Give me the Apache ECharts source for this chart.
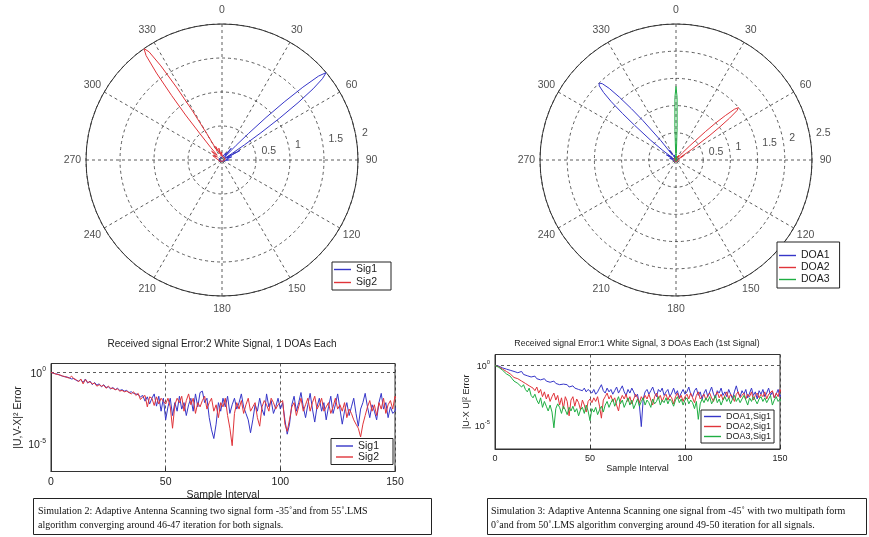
<!DOCTYPE html>
<html>
<head>
<meta charset="utf-8">
<script src="https://cdn.jsdelivr.net/npm/echarts@6.0.0/dist/echarts.min.js"></script>
<style>
html,body{margin:0;padding:0;background:#fff;}
#chart{width:869px;height:537px;}
</style>
</head>
<body>
<div id="chart"></div>
<script>
// ---- Beam patterns (radius vs. bearing in degrees) ----
const sig1Theta = [0, 10, 20, 28, 34, 38, 41, 43, 44, 45, 46, 47, 48, 49, 50, 51, 52, 53, 54, 55, 56, 57, 59, 62, 66, 72, 80, 90, 100, 110, 120, 135, 150, 170, 190, 210, 230, 250, 270, 285, 300, 315, 330, 345, 360];
const sig1R     = [0.04, 0.06, 0.05, 0.12, 0.08, 0.22, 0.05, 0.12, 0.3, 0.55, 0.9, 1.25, 1.6, 1.88, 2.0, 1.9, 1.7, 1.4, 1.05, 0.7, 0.4, 0.18, 0.05, 0.3, 0.08, 0.15, 0.06, 0.1, 0.05, 0.04, 0.03, 0.04, 0.02, 0.03, 0.02, 0.03, 0.02, 0.04, 0.03, 0.05, 0.04, 0.05, 0.03, 0.04, 0.04];
const sig2Theta = [0, 10, 20, 35, 50, 70, 90, 110, 130, 150, 170, 190, 210, 230, 250, 270, 285, 295, 303, 310, 315, 318, 320, 321, 322, 323, 324, 325, 326, 327, 328, 329, 330, 332, 335, 340, 345, 350, 355, 360];
const sig2R     = [0.08, 0.05, 0.06, 0.04, 0.05, 0.03, 0.04, 0.03, 0.02, 0.03, 0.02, 0.03, 0.02, 0.03, 0.04, 0.06, 0.05, 0.15, 0.08, 0.2, 0.1, 0.25, 0.5, 0.85, 1.2, 1.6, 1.9, 2.0, 1.92, 1.65, 1.25, 0.85, 0.45, 0.15, 0.22, 0.1, 0.18, 0.06, 0.12, 0.08];

const doa1Theta = [0, 15, 30, 45, 60, 80, 100, 120, 140, 160, 180, 200, 220, 240, 260, 275, 285, 292, 298, 303, 306, 308, 310, 311, 312, 313, 314, 315, 316, 317, 318, 319, 320, 322, 324, 327, 332, 340, 350, 360];
const doa1R     = [0.05, 0.03, 0.04, 0.03, 0.04, 0.02, 0.03, 0.02, 0.03, 0.02, 0.03, 0.02, 0.03, 0.02, 0.04, 0.06, 0.12, 0.05, 0.2, 0.08, 0.3, 0.6, 1.0, 1.3, 1.6, 1.82, 1.96, 2.0, 1.95, 1.8, 1.55, 1.25, 0.95, 0.45, 0.12, 0.22, 0.06, 0.1, 0.04, 0.05];
const doa2Theta = [0, 15, 25, 33, 38, 42, 44, 46, 47, 48, 49, 50, 51, 52, 53, 54, 56, 58, 62, 67, 75, 90, 110, 130, 150, 170, 190, 210, 230, 250, 270, 290, 310, 330, 345, 360];
const doa2R     = [0.04, 0.03, 0.05, 0.1, 0.05, 0.18, 0.35, 0.75, 1.0, 1.22, 1.42, 1.5, 1.44, 1.25, 1.0, 0.75, 0.35, 0.1, 0.15, 0.05, 0.08, 0.03, 0.02, 0.03, 0.02, 0.03, 0.02, 0.03, 0.02, 0.03, 0.02, 0.03, 0.04, 0.03, 0.05, 0.04];
const doa3Theta = [0, 1, 2, 3, 5, 8, 15, 30, 60, 90, 120, 150, 180, 210, 240, 270, 300, 330, 345, 352, 355, 357, 358, 359, 360];
const doa3R     = [1.35, 1.15, 0.6, 0.12, 0.08, 0.05, 0.04, 0.03, 0.02, 0.02, 0.02, 0.02, 0.02, 0.02, 0.02, 0.02, 0.02, 0.03, 0.04, 0.05, 0.08, 0.12, 0.6, 1.15, 1.35];

const bearingLabels   = [0, 30, 60, 90, 120, 150, 180, 210, 240, 270, 300, 330];
const ringLabelsLeft  = [0.5, 1, 1.5, 2];
const ringLabelsRight = [0.5, 1, 1.5, 2, 2.5];

// ---- Squared error per sample interval (0..150) ----
const sig1Err = [1, 0.89, 0.79, 0.76, 0.63, 0.56, 0.5, 0.48, 0.42, 0.35, 0.38,
  0.28, 0.25, 0.32, 0.2, 0.35, 0.18, 0.25, 0.14, 0.2, 0.13,
  0.16, 0.1, 0.14, 0.089, 0.1, 0.071, 0.089, 0.063, 0.079, 0.056,
  0.063, 0.05, 0.056, 0.04, 0.045, 0.035, 0.032, 0.028, 0.02, 0.025,
  0.01, 0.02, 6.3e-3, 0.016, 0.032, 4.5e-3, 0.022, 2e-3, 0.016, 5e-4,
  4e-3, 0.016, 1e-3, 7.9e-3, 2e-3, 0.022, 2.8e-3, 7.9e-3, 1e-3, 5.6e-3,
  0.016, 2e-3, 0.032, 4e-3, 0.04, 0.05, 7.9e-3, 0.016, 7.1e-4, 1e-4,
  2.5e-5, 2.5e-4, 7.9e-3, 2e-3, 0.016, 4e-3, 0.022, 1.4e-3, 5.6e-3, 0.016,
  2.8e-3, 7.9e-3, 0.032, 4e-3, 1.4e-3, 5e-4, 6.3e-5, 5e-4, 5.6e-3, 2e-3,
  0.016, 2.8e-3, 1e-3, 0.032, 4e-3, 0.011, 1.4e-3, 4e-3, 0.016, 2.8e-3,
  7.9e-3, 5e-4, 5e-5, 2.5e-4, 5.6e-3, 0.022, 2e-3, 7.9e-3, 0.04, 4e-3,
  7.1e-4, 5.6e-3, 0.035, 2.8e-3, 3.5e-4, 4e-3, 0.016, 2e-3, 7.9e-3, 5e-4,
  4e-3, 0.022, 1.4e-3, 5.6e-3, 0.032, 2.8e-3, 2.5e-4, 2e-3, 7.9e-3, 1e-3,
  4e-3, 0.016, 1.4e-3, 1.8e-4, 2.8e-3, 7.9e-3, 0.035, 4e-3, 7.1e-4, 5.6e-3,
  2e-3, 5e-4, 7.9e-3, 0.035, 2.8e-3, 7.9e-3, 7.1e-4, 4e-3, 1.4e-3, 2e-3, 7.9e-3];
const sig2Err = [1, 0.89, 0.79, 0.71, 0.66, 0.56, 0.52, 0.45, 0.4, 0.56, 0.35,
  0.32, 0.22, 0.35, 0.16, 0.32, 0.2, 0.22, 0.16, 0.18, 0.11,
  0.14, 0.11, 0.13, 0.079, 0.11, 0.079, 0.079, 0.063, 0.071, 0.05,
  0.056, 0.045, 0.05, 0.04, 0.032, 0.045, 0.025, 0.035, 0.013, 0.02,
  0.025, 4e-3, 0.02, 0.016, 5e-3, 0.02, 6.3e-3, 0.016, 0.01, 6.3e-3,
  0.016, 4e-3, 1.3e-4, 5.6e-3, 0.016, 7.9e-3, 0.022, 2e-3, 0.011, 0.032,
  5.6e-3, 0.016, 1.4e-3, 7.9e-3, 4e-3, 0.011, 0.022, 2.8e-3, 7.9e-3, 0.016,
  2e-3, 5.6e-3, 7.1e-4, 7.9e-3, 4e-3, 0.016, 1e-3, 1.3e-4, 7.9e-6, 1.4e-3,
  7.9e-3, 2.8e-3, 0.011, 1.4e-3, 5.6e-3, 0.016, 2e-3, 4e-3, 7.9e-3, 7.1e-4,
  1.8e-4, 4e-3, 0.011, 5.6e-3, 2e-3, 0.016, 7.9e-3, 2.8e-3, 5.6e-3, 7.9e-3,
  0.011, 2.5e-4, 7.9e-5, 5e-4, 4e-3, 7.9e-3, 1e-3, 4e-3, 0.016, 2e-3,
  5.6e-3, 0.016, 2e-3, 7.9e-3, 0.022, 2.8e-3, 5.6e-3, 0.016, 2e-3, 4e-3,
  7.9e-3, 1.4e-3, 4e-3, 0.016, 2.8e-3, 5.6e-3, 2e-3, 7.9e-3, 7.1e-4, 2.8e-3,
  1.4e-3, 5e-4, 2.5e-4, 1.3e-4, 3.2e-5, 2.5e-4, 1e-3, 4e-3, 0.011, 2e-3,
  5.6e-3, 1e-3, 7.9e-3, 2.8e-3, 0.016, 1.4e-3, 5.6e-3, 0.011, 2.8e-3, 0.022, 0.011];

const doa1Err = [1, 1, 0.89, 0.79, 0.63, 0.71, 0.5, 0.56, 0.4, 0.45, 0.32,
  0.4, 0.25, 0.28, 0.32, 0.18, 0.2, 0.14, 0.16, 0.11, 0.089,
  0.13, 0.079, 0.1, 0.063, 0.071, 0.079, 0.05, 0.063, 0.04, 0.045,
  0.05, 0.032, 0.04, 0.025, 0.035, 0.028, 0.02, 0.025, 0.016, 0.018,
  0.02, 0.013, 0.016, 0.01, 0.014, 7.9e-3, 0.013, 6.3e-3, 0.01, 7.9e-3,
  5e-3, 0.01, 4e-3, 6.3e-3, 0.013, 0.025, 7.9e-3, 5e-3, 0.013, 6.3e-3,
  0.01, 4e-3, 7.9e-3, 0.016, 5e-3, 0.01, 0.02, 6.3e-3, 3.2e-3, 0.01,
  5e-3, 0.013, 6.3e-3, 2.5e-3, 4e-3, 5e-4, 7.9e-6, 1.6e-3, 6.3e-3, 0.01,
  4e-3, 7.9e-3, 0.016, 5e-3, 2.5e-3, 0.01, 6.3e-3, 0.013, 3.2e-3, 6.3e-3,
  0.01, 2.5e-3, 5e-3, 0.013, 4e-3, 7.9e-3, 2e-3, 5e-3, 0.01, 4e-3,
  6.3e-3, 0.016, 4e-3, 2.5e-3, 7.9e-3, 0.013, 3.2e-3, 6.3e-3, 1.6e-3, 5e-3,
  0.01, 2.5e-3, 6.3e-3, 0.016, 4e-3, 2e-3, 7.9e-3, 5e-3, 0.013, 3.2e-3,
  6.3e-3, 2.5e-3, 0.01, 4e-3, 1.6e-3, 6.3e-3, 0.02, 5e-3, 2.5e-3, 7.9e-3,
  4e-3, 0.01, 2e-3, 5e-3, 0.013, 3.2e-3, 6.3e-3, 1.6e-3, 7.9e-3, 4e-3,
  0.01, 2.5e-3, 5e-3, 0.013, 3.2e-3, 6.3e-3, 2e-3, 4e-3, 0.01, 2.5e-3, 5e-3];
const doa2Err = [1, 1, 0.79, 0.63, 0.5, 0.45, 0.32, 0.35, 0.2, 0.16, 0.1,
  0.13, 0.079, 0.1, 0.05, 0.063, 0.032, 0.04, 0.02, 0.025, 0.013,
  7.9e-3, 0.016, 5e-3, 0.01, 2.5e-3, 6.3e-3, 1.6e-3, 4e-3, 1e-3, 2.5e-3,
  5e-3, 1.3e-3, 3.2e-3, 5e-4, 2e-3, 2.5e-4, 2.5e-3, 1e-3, 6.3e-5, 1.3e-3,
  2.5e-3, 4e-4, 1.6e-3, 7.9e-4, 2e-4, 1.3e-3, 5e-4, 1.3e-4, 1e-3, 1.6e-3,
  7.9e-4, 2e-3, 1e-3, 2.5e-3, 4e-4, 4e-5, 1.3e-3, 2.5e-3, 5e-3, 1.6e-3,
  3.2e-3, 1e-3, 2e-3, 5e-4, 1.6e-4, 1.3e-3, 3.2e-3, 1.6e-3, 4e-3, 1e-3,
  2.5e-3, 6.3e-4, 1.6e-3, 4e-3, 2e-3, 7.9e-4, 2.5e-3, 1.3e-3, 3.2e-3, 1.6e-3,
  4e-3, 1.3e-3, 5e-4, 2.5e-3, 5e-3, 1.6e-3, 3.2e-3, 1e-3, 2.5e-3, 4e-3,
  1.3e-3, 3.2e-3, 2e-3, 6.3e-4, 2.5e-3, 5e-3, 1.6e-3, 3.2e-3, 1e-3, 2.5e-3,
  4e-3, 1.6e-3, 5e-3, 2e-3, 7.9e-4, 3.2e-3, 6.3e-3, 1.6e-3, 2.5e-3, 4e-3,
  1.3e-3, 3.2e-3, 5e-3, 2e-3, 1e-3, 3.2e-3, 6.3e-3, 2e-3, 4e-3, 1.3e-3,
  3.2e-3, 6.3e-3, 1.6e-3, 4e-3, 2.5e-3, 1e-3, 4e-3, 6.3e-3, 2e-3, 3.2e-3,
  5e-3, 1.6e-3, 4e-3, 2.5e-3, 6.3e-3, 1.3e-3, 3.2e-3, 5e-3, 2e-3, 4e-3,
  2.5e-3, 6.3e-3, 1.6e-3, 4e-3, 3.2e-3, 7.9e-3, 2e-3, 5e-3, 2.5e-3, 0.01, 4e-3];
const doa3Err = [1, 0.89, 0.71, 0.5, 0.4, 0.32, 0.2, 0.25, 0.13, 0.079, 0.05,
  0.063, 0.032, 0.04, 0.016, 0.025, 0.01, 6.3e-3, 0.013, 3.2e-3, 2e-3,
  4e-3, 1.3e-3, 6.3e-4, 2e-3, 3.2e-4, 1e-3, 4e-4, 1.6e-4, 5e-4, 1.3e-4,
  6.3e-6, 2.5e-4, 6.3e-4, 3.2e-4, 1e-4, 4e-4, 2e-4, 7.9e-5, 3.2e-4, 1.6e-4,
  4e-4, 1.3e-4, 2.5e-4, 6.3e-5, 2e-4, 3.2e-4, 1e-4, 5e-4, 1.6e-4, 2.5e-5,
  2.5e-4, 1.3e-4, 3.2e-4, 7.9e-5, 2e-4, 4e-4, 1.3e-4, 5e-4, 1e-3, 3.2e-4,
  7.9e-4, 1.6e-3, 4e-4, 1e-3, 2.5e-3, 6.3e-4, 1.3e-3, 3.2e-4, 7.9e-4, 2e-3,
  5e-4, 1.3e-3, 2.5e-4, 6.3e-4, 1.6e-3, 4e-4, 1e-3, 2e-3, 5e-4, 1.3e-3,
  7.9e-4, 3.2e-4, 1.6e-3, 6.3e-4, 1e-3, 2.5e-3, 5e-4, 1.3e-3, 7.9e-4, 2e-3,
  6.3e-4, 1.6e-3, 1e-3, 4e-4, 1.3e-3, 2.5e-3, 7.9e-4, 1.6e-3, 5e-4, 1.3e-3,
  2e-3, 6.3e-4, 1.3e-3, 7.9e-4, 2.5e-4, 1e-3, 3.2e-5, 6.3e-4, 1.6e-3, 7.9e-4,
  2e-3, 1e-3, 2.5e-3, 6.3e-4, 1.3e-3, 3.2e-3, 7.9e-4, 1.6e-3, 5e-4, 1.3e-3,
  2.5e-3, 1e-3, 2e-3, 6.3e-4, 1.6e-3, 3.2e-3, 1e-3, 2e-3, 7.9e-4, 1.6e-3,
  3.2e-3, 1.3e-3, 5e-4, 2e-3, 1e-3, 2.5e-3, 1.3e-3, 6.3e-4, 1.6e-3, 2.5e-3,
  1e-3, 2e-3, 7.9e-4, 1.6e-3, 3.2e-3, 5e-4, 1.3e-3, 2.5e-3, 1e-3, 1.6e-3, 7.9e-4];

const xTicks = [0, 50, 100, 150];
const yGridValues = [1, 1e-5];

// ---- styling ----
const SANS = '"Liberation Sans", Arial, Helvetica, sans-serif';
const SERIF = '"Liberation Serif", "Times New Roman", serif';
const INK = '#222';
const BLUE = '#3636c8', RED = '#e0343a', GREEN = '#1fae43';
const DASH = { color: '#333', type: [3, 3], width: 0.8 };
const RIM = 136;

const polarPts = (theta, r) => theta.map((t, i) => [r[i], t]);
const samplePts = vals => vals.map((v, i) => [i, v]);

function angleAxisFor(idx, visible) {
  return {
    polarIndex: idx, type: 'value', min: 0, max: 360, interval: 30,
    startAngle: 90, clockwise: true,
    axisLine: { show: visible, lineStyle: { color: '#333', width: 1 } },
    axisTick: { show: false },
    splitLine: { show: visible, lineStyle: DASH },
    axisLabel: { show: false }
  };
}
function radiusAxisFor(idx, max, visible) {
  return {
    polarIndex: idx, type: 'value', min: 0, max: max, interval: 0.5,
    axisLine: { show: false }, axisTick: { show: false }, axisLabel: { show: false },
    splitLine: { show: visible, lineStyle: DASH }
  };
}
// bearing labels live on an outer ring (1.1 x rim), centred like MATLAB's polar()
function bearingLabelSeries(idx) {
  return {
    type: 'scatter', coordinateSystem: 'polar', polarIndex: idx, silent: true,
    symbolSize: 0, z: 5,
    data: bearingLabels.map(a => [1, a]),
    label: { show: true, position: 'inside', color: INK, fontSize: 10.5, fontFamily: SANS,
      formatter: p => String(p.value[1]) }
  };
}
function ringLabelSeries(idx, values) {
  return {
    type: 'scatter', coordinateSystem: 'polar', polarIndex: idx, silent: true,
    symbolSize: 0, z: 5,
    data: values.map(v => [v, 80]),
    label: { show: true, position: 'right', distance: 6, offset: [0, -3],
      color: INK, fontSize: 10.5, fontFamily: SANS, formatter: p => String(p.value[0]) }
  };
}
function polarLine(name, idx, theta, r, color) {
  return {
    name, type: 'line', coordinateSystem: 'polar', polarIndex: idx,
    data: polarPts(theta, r), showSymbol: false, symbol: 'none',
    lineStyle: { color, width: 1 }, itemStyle: { color }, z: 3
  };
}
function errLine(name, gridIdx, vals, color, withGrid) {
  const s = {
    name, type: 'line', xAxisIndex: gridIdx, yAxisIndex: gridIdx,
    data: samplePts(vals), showSymbol: false, symbol: 'none',
    lineStyle: { color, width: 1 }, itemStyle: { color }, z: 3
  };
  if (withGrid) {
    s.markLine = { silent: true, symbol: 'none', label: { show: false },
      lineStyle: DASH, z: 1, data: yGridValues.map(v => ({ yAxis: v })) };
  }
  return s;
}
function logAxis(idx, min, max, fs, gap, name) {
  return {
    gridIndex: idx, type: 'log', logBase: 10, min, max,
    axisLine: { show: true, lineStyle: { color: '#333' } },
    axisTick: { show: false }, splitLine: { show: false },
    axisLabel: { color: INK, fontFamily: SANS, margin: 5,
      formatter: v => {
        const e = Math.log10(v), r = Math.round(e);
        if (Math.abs(e - r) > 1e-6 || (r !== 0 && r !== -5)) return '';
        return '{b|10}{s|' + r + '}';
      },
      rich: { b: { fontSize: fs, fontFamily: SANS, color: INK, verticalAlign: 'bottom', lineHeight: fs + 3 },
              s: { fontSize: fs * 0.65, fontFamily: SANS, color: INK, verticalAlign: 'top' } } },
    name, nameLocation: 'middle', nameRotate: 90, nameGap: gap,
    nameTextStyle: { color: INK, fontSize: fs, fontFamily: SANS }
  };
}
function xAxisFor(idx, fs, gap) {
  return {
    gridIndex: idx, type: 'value', min: 0, max: 150, interval: 50,
    axisLine: { show: true, lineStyle: { color: '#333' } },
    axisTick: { show: true, inside: true, length: 4, lineStyle: { color: '#333' } },
    splitLine: { show: true, lineStyle: DASH },
    axisLabel: { color: INK, fontSize: fs, fontFamily: SANS, margin: 5,
      customValues: xTicks },
    name: 'Sample Interval', nameLocation: 'middle', nameGap: gap,
    nameTextStyle: { color: INK, fontSize: fs, fontFamily: SANS }
  };
}
function legendAt(data, left, top, fs, gap, pad) {
  return {
    data, orient: 'vertical', left, top, selectedMode: false,
    icon: 'rect', itemWidth: 17, itemHeight: 1.4, itemGap: gap, padding: pad,
    backgroundColor: '#fff', borderColor: '#222', borderWidth: 1, borderRadius: 0,
    textStyle: { color: INK, fontSize: fs, fontFamily: SANS }
  };
}

const chart = echarts.init(document.getElementById('chart'), null, { renderer: 'canvas' });
chart.setOption({
  animation: false,
  backgroundColor: '#fff',
  polar: [
    { center: [222, 160], radius: RIM },
    { center: [676, 160], radius: RIM },
    { center: [222, 160], radius: RIM * 1.1 },
    { center: [676, 160], radius: RIM * 1.1 }
  ],
  angleAxis: [angleAxisFor(0, true), angleAxisFor(1, true), angleAxisFor(2, false), angleAxisFor(3, false)],
  radiusAxis: [radiusAxisFor(0, 2, true), radiusAxisFor(1, 2.5, true), radiusAxisFor(2, 1, false), radiusAxisFor(3, 1, false)],
  grid: [
    { left: 51, top: 363.5, width: 344, height: 108, show: true, borderColor: '#333', borderWidth: 1, backgroundColor: 'transparent' },
    { left: 495, top: 354.5, width: 285, height: 94.5, show: true, borderColor: '#333', borderWidth: 1, backgroundColor: 'transparent' }
  ],
  xAxis: [xAxisFor(0, 10.5, 18), xAxisFor(1, 9, 13)],
  yAxis: [logAxis(0, 1.26e-7, 4.2, 10.5, 27, '|U,V-X|\u00b2 Error'),
          logAxis(1, 1.07e-7, 8.3, 9, 22, '|U-X U|\u00b2 Error')],
  legend: [
    legendAt(['Sig1', 'Sig2'], 332, 262, 10.5, 2, [2, 14, 2, 2]),
    legendAt(['DOA1', 'DOA2', 'DOA3'], 777, 242, 10.5, 1, [8, 10, 3, 2]),
    legendAt(['Sig1', 'Sig2'], 331, 438.5, 10.5, 0, [2, 14, 2, 5]),
    legendAt(['DOA1,Sig1', 'DOA2,Sig1', 'DOA3,Sig1'], 701, 410, 9, 1, [2, 3, 2, 3])
  ],
  graphic: [
    { type: 'text', x: 222, y: 339, style: { text: 'Received signal Error:2 White Signal, 1 DOAs Each',
      fill: INK, font: '10px ' + SANS, textAlign: 'center' } },
    { type: 'text', x: 637, y: 339, style: { text: 'Received signal Error:1 White Signal, 3 DOAs Each (1st Signal)',
      fill: INK, font: '8.7px ' + SANS, textAlign: 'center' } },
    { type: 'rect', shape: { x: 33.5, y: 498.5, width: 398, height: 36 }, style: { fill: '#fff', stroke: '#222', lineWidth: 1 } },
    { type: 'text', x: 38, y: 504, style: { text: 'Simulation 2: Adaptive Antenna Scanning two signal form -35\u02daand from 55\u02da.LMS\nalgorithm converging around 46-47 iteration for both signals.',
      fill: '#111', font: '10px ' + SERIF, lineHeight: 14 } },
    { type: 'rect', shape: { x: 487.5, y: 498.5, width: 379, height: 36 }, style: { fill: '#fff', stroke: '#222', lineWidth: 1 } },
    { type: 'text', x: 491, y: 504, style: { text: 'Simulation 3: Adaptive Antenna Scanning one signal from -45\u02da with two multipath form\n0\u02daand from 50\u02da.LMS algorithm converging around 49-50 iteration for all signals.',
      fill: '#111', font: '10px ' + SERIF, lineHeight: 14 } }
  ],
  series: [
    polarLine('Sig1', 0, sig1Theta, sig1R, BLUE),
    polarLine('Sig2', 0, sig2Theta, sig2R, RED),
    polarLine('DOA1', 1, doa1Theta, doa1R, BLUE),
    polarLine('DOA2', 1, doa2Theta, doa2R, RED),
    polarLine('DOA3', 1, doa3Theta, doa3R, GREEN),
    bearingLabelSeries(2),
    bearingLabelSeries(3),
    ringLabelSeries(0, ringLabelsLeft),
    ringLabelSeries(1, ringLabelsRight),
    errLine('Sig1', 0, sig1Err, BLUE, true),
    errLine('Sig2', 0, sig2Err, RED, false),
    errLine('DOA1,Sig1', 1, doa1Err, BLUE, true),
    errLine('DOA2,Sig1', 1, doa2Err, RED, false),
    errLine('DOA3,Sig1', 1, doa3Err, GREEN, false)
  ]
});
</script>
</body>
</html>
